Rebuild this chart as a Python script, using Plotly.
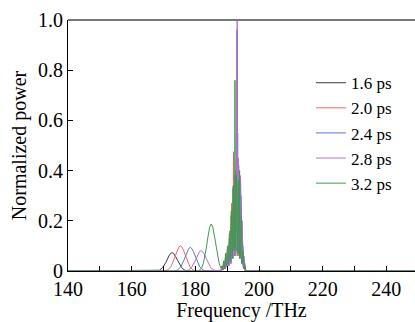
import plotly.graph_objects as go

labels = ["1.6 ps", "2.0 ps", "2.4 ps", "2.8 ps", "3.2 ps"]
colors = ["#3a3a3a", "#f2665a", "#5a72d8", "#b26fd6", "#3f9a4c"]

# frequency (THz) / normalized power
f_16 = [140, 167.7, 168.7, 169.7, 170.7, 171.7, 172.2, 172.7, 173.2, 173.7, 174.7, 175.7, 176.7, 177.7,
        188.0, 188.3, 188.6, 188.9, 189.2, 189.5, 189.8, 190.1, 190.4, 190.7, 191.0, 191.3, 191.6, 191.9,
        192.2, 192.5, 192.8, 193.0, 193.15, 193.3, 193.6, 193.9, 194.2, 194.5, 194.8, 195.1, 195.4, 195.7, 249]
p_16 = [0, 0, 0.003, 0.013, 0.033, 0.060, 0.070, 0.073, 0.070, 0.060, 0.033, 0.013, 0.003, 0,
        0.0, 0.02, 0.005, 0.04, 0.01, 0.06, 0.02, 0.09, 0.03, 0.13, 0.04, 0.22, 0.06, 0.33,
        0.08, 0.38, 0.10, 0.10, 0.96, 0.12, 0.42, 0.08, 0.36, 0.05, 0.12, 0.02, 0.04, 0.0, 0]

f_20 = [140, 170.3, 171.3, 172.3, 173.3, 174.3, 174.8, 175.3, 175.8, 176.3, 177.3, 178.3, 179.3, 180.3,
        188.1, 188.4, 188.7, 189.0, 189.3, 189.6, 189.9, 190.2, 190.5, 190.8, 191.1, 191.4, 191.7, 191.85,
        192.0, 192.15, 192.4, 192.7, 193.0, 193.3, 193.6, 193.9, 194.2, 194.5, 194.8, 195.1, 195.4, 195.6, 249]
p_20 = [0, 0, 0.004, 0.017, 0.046, 0.082, 0.095, 0.100, 0.095, 0.082, 0.046, 0.017, 0.004, 0,
        0.0, 0.02, 0.004, 0.04, 0.01, 0.07, 0.02, 0.10, 0.03, 0.16, 0.04, 0.27, 0.06, 0.10,
        0.475, 0.08, 0.36, 0.06, 0.40, 0.06, 0.38, 0.05, 0.30, 0.03, 0.10, 0.01, 0.03, 0.0, 0]

f_24 = [140, 173.4, 174.4, 175.4, 176.4, 177.4, 177.9, 178.4, 178.9, 179.4, 180.4, 181.4, 182.4, 183.4,
        188.2, 188.5, 188.8, 189.1, 189.4, 189.7, 190.0, 190.3, 190.6, 190.9, 191.2, 191.5, 191.8, 192.1,
        192.4, 192.7, 193.0, 193.3, 193.45, 193.7, 194.0, 194.3, 194.6, 194.9, 195.2, 195.5, 195.8, 249]
p_24 = [0, 0, 0.004, 0.016, 0.043, 0.077, 0.089, 0.094, 0.089, 0.077, 0.043, 0.016, 0.004, 0,
        0.0, 0.01, 0.003, 0.03, 0.008, 0.05, 0.015, 0.08, 0.02, 0.12, 0.03, 0.20, 0.05, 0.28,
        0.06, 0.35, 0.08, 0.55, 0.07, 0.40, 0.05, 0.30, 0.03, 0.10, 0.01, 0.03, 0.0, 0]

f_28 = [140, 176.8, 177.8, 178.8, 179.8, 180.8, 181.3, 181.8, 182.3, 182.8, 183.8, 184.8, 185.8, 186.8,
        188.15, 188.45, 188.75, 189.05, 189.35, 189.65, 189.95, 190.25, 190.55, 190.85, 191.15, 191.45,
        191.75, 192.05, 192.35, 192.65, 192.95, 193.15, 193.3, 193.5, 193.8, 194.1, 194.4, 194.7, 195.0,
        195.3, 195.6, 249]
p_28 = [0, 0, 0.004, 0.014, 0.037, 0.067, 0.077, 0.081, 0.077, 0.067, 0.037, 0.014, 0.004, 0,
        0.0, 0.015, 0.004, 0.035, 0.008, 0.05, 0.015, 0.08, 0.02, 0.14, 0.03, 0.24,
        0.05, 0.30, 0.07, 0.40, 0.09, 1.0, 0.10, 0.45, 0.08, 0.38, 0.05, 0.20, 0.02,
        0.06, 0.0, 0]

f_32 = [140, 181.0, 181.5, 182.0, 182.5, 183.0, 183.5, 184.0, 184.5, 185.0, 185.5, 186.0, 186.5, 187.0,
        187.5, 188.0, 188.3, 188.6, 188.9, 189.2, 189.5, 189.8, 190.1, 190.4, 190.7, 191.0, 191.3, 191.6,
        191.9, 192.15, 192.3, 192.45, 192.6, 192.9, 193.2, 193.5, 193.75, 193.9, 194.05, 194.3, 194.5,
        194.7, 195.0, 195.3, 195.6, 195.9, 249]
p_32 = [0, 0, 0.005, 0.013, 0.029, 0.057, 0.096, 0.139, 0.174, 0.187, 0.174, 0.139, 0.096, 0.057,
        0.029, 0.013, 0.02, 0.004, 0.04, 0.01, 0.07, 0.02, 0.10, 0.03, 0.15, 0.04, 0.24, 0.05,
        0.34, 0.08, 0.10, 0.76, 0.09, 0.38, 0.07, 0.36, 0.06, 0.40, 0.05, 0.10, 0.216,
        0.03, 0.08, 0.01, 0.02, 0.0, 0]

freqs = [f_16, f_20, f_24, f_28, f_32]
powers = [p_16, p_20, p_24, p_28, p_32]

x_ticks = [140, 160, 180, 200, 220, 240]
y_ticks = [0, 0.2, 0.4, 0.6, 0.8, 1.0]
y_ticktext = ["0", "0.2", "0.4", "0.6", "0.8", "1.0"]

FONT = "Liberation Serif"

fig = go.Figure()
for lab, col, fx, py in zip(labels, colors, freqs, powers):
    fig.add_trace(go.Scatter(x=fx, y=py, mode="lines", name=lab,
                             line=dict(color=col, width=1)))

fig.update_layout(
    width=415, height=322,
    margin=dict(l=68, r=0, t=20, b=51),
    paper_bgcolor="white", plot_bgcolor="white",
    font=dict(family=FONT, size=20, color="black"),
    showlegend=True,
    legend=dict(x=0.70, y=0.82, xanchor="left", yanchor="top",
                bgcolor="rgba(0,0,0,0)", font=dict(family=FONT, size=17),
                tracegroupgap=0),
    xaxis=dict(range=[140, 249], tickvals=x_ticks, ticks="inside", ticklen=5,
               tickcolor="black", showline=True, linecolor="black", linewidth=1,
               showgrid=False, zeroline=False,
               minor=dict(dtick=10, ticks="inside", ticklen=5, tickcolor="black"),
               title=dict(text="Frequency /THz", standoff=2, font=dict(family=FONT, size=20)),
               tickfont=dict(family=FONT, size=20)),
    yaxis=dict(range=[0, 1], tickvals=y_ticks, ticktext=y_ticktext, ticks="inside",
               ticklen=5, tickcolor="black", showline=True, linecolor="black",
               linewidth=1, showgrid=False, zeroline=False,
               title=dict(text="Normalized power", standoff=6, font=dict(family=FONT, size=20)),
               tickfont=dict(family=FONT, size=20)),
    shapes=[dict(type="line", xref="paper", yref="paper", x0=0, x1=1, y0=1, y1=1,
                 line=dict(color="#777777", width=2))],
)

fig.write_html("out.html")
